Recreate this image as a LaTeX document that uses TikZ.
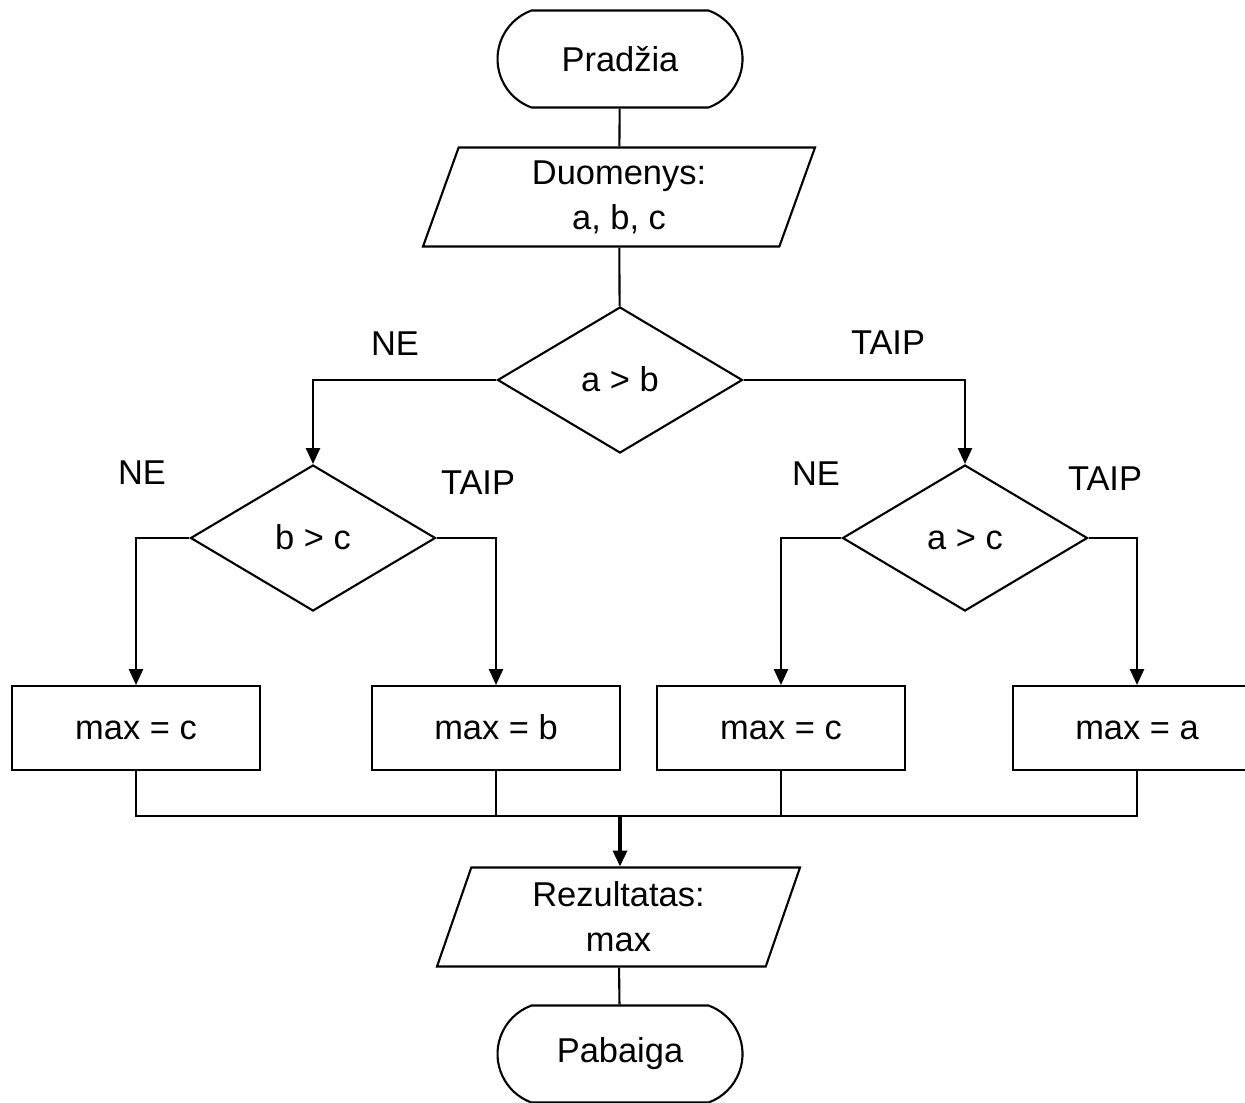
\documentclass[tikz,border=0pt]{standalone}
\usepackage{fontspec}
\setmainfont{Liberation Sans}
\usetikzlibrary{shapes.geometric,shapes.misc,arrows.meta}
\begin{document}
\begin{tikzpicture}[line width=0.6pt,>={Triangle[length=4.5pt,width=4pt]},
  font=\fontsize{9.8}{12.8}\selectfont,
  terminal/.style={draw,rounded rectangle,rounded rectangle arc length=140,minimum width=2.45cm,minimum height=0.97cm,inner sep=0pt},
  io/.style={draw,trapezium,trapezium left angle=64,trapezium right angle=116,trapezium stretches body,minimum width=3.92cm,minimum height=0.99cm,inner sep=0pt,align=center},
  cond/.style={draw,diamond,minimum width=2.45cm,minimum height=1.46cm,inner sep=0pt,text height=1.6ex,text depth=0.4ex},
  action/.style={draw,rectangle,minimum width=2.48cm,minimum height=0.84cm,inner sep=0pt,text height=1.6ex,text depth=0.4ex}]
\useasboundingbox (0,0) rectangle (12.45,11.02);
\node[terminal](start) at (6.20,10.43) {Pradžia};
\node[io](input) at (6.19,9.05) {Duomenys:\\a, b, c};
\node[cond](d1) at (6.20,7.22) {a > b};
\node[cond](d2) at (3.13,5.64) {b > c};
\node[cond](d3) at (9.65,5.64) {a > c};
\node[action](c1) at (1.36,3.74) {max = c};
\node[action](c2) at (4.96,3.74) {max = b};
\node[action](c3) at (7.81,3.74) {max = c};
\node[action](c4) at (11.37,3.74) {max = a};
\node[io,minimum width=3.63cm](output) at (6.185,1.85) {Rezultatas:\\max};
\node[terminal](end) at (6.20,0.48) {Pabaiga};
\node(ne1) at (3.95,7.58) {NE};
\node(taip1) at (8.88,7.59) {TAIP};
\node(ne2) at (1.42,6.29) {NE};
\node(taip2) at (4.78,6.19) {TAIP};
\node(ne3) at (8.16,6.28) {NE};
\node(taip3) at (11.05,6.23) {TAIP};
\coordinate(m) at (6.20,2.86);
\draw (start)--(input);
\draw (input)--(d1);
\draw[->] (d1.west)-|(d2.north);
\draw[->] (d1.east)-|(d3.north);
\draw[->] (d2.west)-|(c1.north);
\draw[->] (d2.east)-|(c2.north);
\draw[->] (d3.west)-|(c3.north);
\draw[->] (d3.east)-|(c4.north);
\draw (c1.south)|-(m)-|(c4.south);
\draw (c2.south)|-(m);
\draw (c3.south)|-(m);
\draw[->,line width=0.9pt] (m)--(m|-output.north);
\draw (output)--(end);
\end{tikzpicture}
\end{document}
